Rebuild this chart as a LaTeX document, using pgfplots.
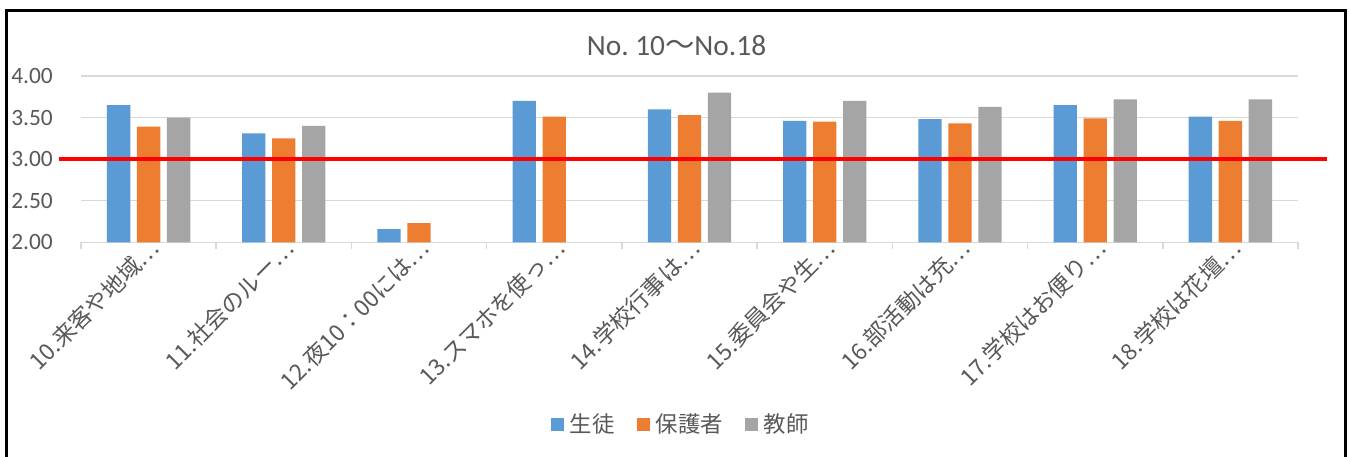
\documentclass[border=0pt]{standalone}
\usepackage{fontspec}
\setmainfont{Carlito}
\newfontfamily\cjk{Noto Sans CJK JP}
\usepackage{pgfplots}
\pgfplotsset{compat=1.18}
\definecolor{cblue}{HTML}{5B9BD5}
\definecolor{corange}{HTML}{ED7D31}
\definecolor{cgray}{HTML}{A5A5A5}
\definecolor{ctext}{HTML}{595959}
\definecolor{cgrid}{HTML}{D9D9D9}
\pgfplotsset{legsq/.style={legend image code/.code={\fill[##1] (0bp,-6.5bp) rectangle (13bp,6.5bp);}}}
\begin{document}
\begin{tikzpicture}
\useasboundingbox (0,0) rectangle (1349bp,-457bp);
\fill[white] (0,0) rectangle (1349bp,-457bp);
\draw[black, line width=2.5bp] (6.5bp,-10.5bp) rectangle (1345.5bp,-470bp);
\begin{axis}[
  at={(81bp,-242.3bp)}, anchor=south west,
  scale only axis, width=1217bp, height=166.3bp,
  xmin=-0.5, xmax=8.5, ymin=2, ymax=4,
  ybar=6.7bp, bar width=23.3bp,
  axis lines*=left,
  y axis line style={draw=none},
  x axis line style={draw=cgrid, line width=1.5bp},
  xtick={0,...,8},
  xticklabels={10.来客や地域…,11.社会のルー…,12.夜10：00には…,13.スマホを使っ…,14.学校行事は…,15.委員会や生…,16.部活動は充…,17.学校はお便り…,18.学校は花壇…},
  minor xtick={-0.5,0.5,...,8.5},
  major tick length=0pt, minor tick length=7bp,
  tick align=outside,
  every minor tick/.style={draw=cgrid, line width=1.5bp},
  ytick={2,2.5,...,4},
  ymajorgrids, grid style={draw=cgrid, line width=1.5bp},
  /pgf/number format/.cd, fixed, fixed zerofill, precision=2, assume math mode=true, /pgfplots/.cd,
  yticklabel style={font=\fontsize{23.5}{23.5}\selectfont, text=ctext, anchor=east, inner sep=0pt, xshift=-28bp},
  xticklabel style={font=\cjk\fontsize{23}{23}\selectfont, text=ctext, xshift=6bp, yshift=-2bp, rotate=45, anchor=east, inner sep=0pt},
  title={No.\ 10{\cjk 〜}No.18},
  title style={at={(0.4893,1.150)}, anchor=center, font=\fontsize{29.5}{29.5}\selectfont, text=ctext},
  legend columns=3,
  legend style={at={(0.492,-1.0926)}, anchor=center, draw=none, fill=none,
    font=\cjk\fontsize{22.5}{22.5}\selectfont, text=ctext, inner sep=0pt,
    nodes={inner sep=0pt},
    /tikz/every odd column/.style={column sep=6bp},
    /tikz/every even column/.style={column sep=22bp}},
]
\addplot[fill=cblue, draw=none, legsq] coordinates {(0,3.65) (1,3.31) (2,2.16) (3,3.70) (4,3.60) (5,3.46) (6,3.48) (7,3.65) (8,3.51)};
\addplot[fill=corange, draw=none, legsq] coordinates {(0,3.39) (1,3.25) (2,2.23) (3,3.51) (4,3.53) (5,3.45) (6,3.43) (7,3.49) (8,3.46)};
\addplot[fill=cgray, draw=none, legsq] coordinates {(0,3.50) (1,3.40) (4,3.80) (5,3.70) (6,3.63) (7,3.72) (8,3.72)};
\legend{生徒,保護者,教師}
\coordinate (rl) at (axis cs:-0.663,3);
\coordinate (rr) at (axis cs:8.716,3);
\end{axis}
\draw[red, line width=4bp] (rl) -- (rr);
\end{tikzpicture}
\end{document}
